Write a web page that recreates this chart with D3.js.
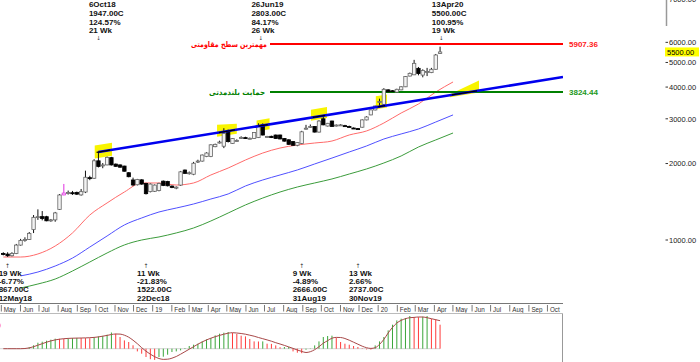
<!DOCTYPE html>
<html>
<head>
<meta charset="utf-8">
<script src="https://cdn.jsdelivr.net/npm/d3@7"></script>
<style>
body { margin: 0; background: #fff; overflow: hidden; }
svg { display: block; }
text { font-family: "Liberation Sans", Arial, sans-serif; }
</style>
</head>
<body>
<svg id="chart" width="700" height="362"></svg>
<script>
// weekly bars, first bar dated 5 May 2018
const firstWeek = "2018-05-05";
const opens = [885, 880, 867, 885, 955, 995, 1005, 1100, 1228, 1236, 1235, 1195, 1200, 1320, 1505, 1530, 1535, 1540, 1505, 1545,
  1760, 1750, 2050, 1965, 1975, 2110, 1990, 1975, 1955, 1840, 1723, 1650, 1725, 1670, 1550, 1555, 1565, 1705, 1700, 1630,
  1600, 1645, 1885, 1830, 1815, 2030, 2045, 2130, 2130, 2330, 2420, 2340, 2685, 2400, 2460, 2530, 2530, 2510, 2510, 2530,
  2840, 2550, 2560, 2590, 2590, 2510, 2480, 2440, 2360, 2400, 2740, 2790, 2800, 2660, 3000, 2810, 2940, 2820, 2840, 2820,
  2800, 2760, 2745, 2780, 2970, 3108, 3250, 3490, 3420, 3900, 3870, 3820, 3900, 4010, 4420, 4470, 4740, 4460, 4600, 4560,
  4700, 5420];
const highs = [895, 895, 895, 965, 1010, 1025, 1075, 1254, 1320, 1300, 1245, 1210, 1290, 1517, 1662, 1565, 1560, 1550, 1588, 1875,
  1790, 2080, 2230, 2010, 2130, 2125, 2000, 1985, 1960, 1850, 1760, 1740, 1735, 1680, 1670, 1655, 1680, 1715, 1710, 1640,
  1625, 1870, 1895, 1860, 2030, 2070, 2170, 2215, 2380, 2395, 2460, 2755, 2720, 2520, 2490, 2560, 2550, 2530, 2660, 2880,
  2880, 2570, 2575, 2600, 2600, 2520, 2490, 2450, 2430, 2690, 2840, 2850, 2810, 2960, 3110, 2890, 2950, 2850, 2860, 2840,
  2820, 2775, 2760, 2985, 3070, 3260, 3380, 3600, 3960, 3920, 3890, 3940, 4030, 4420, 4560, 5120, 4800, 4700, 4760, 4760,
  5400, 5770];
const lows = [870, 858, 862, 880, 950, 985, 1000, 1065, 1200, 1195, 1185, 1180, 1180, 1313, 1500, 1510, 1505, 1505, 1495, 1530,
  1720, 1740, 1930, 1917, 1970, 1965, 1940, 1925, 1860, 1765, 1630, 1640, 1650, 1510, 1540, 1545, 1555, 1630, 1625, 1600,
  1585, 1635, 1820, 1810, 1800, 2010, 2035, 2120, 2120, 2320, 2400, 2300, 2420, 2390, 2440, 2500, 2500, 2490, 2500, 2520,
  2580, 2530, 2520, 2500, 2490, 2440, 2370, 2350, 2340, 2390, 2720, 2760, 2650, 2650, 2830, 2800, 2790, 2800, 2820, 2800,
  2780, 2740, 2720, 2770, 2960, 3100, 3240, 3320, 3400, 3820, 3830, 3810, 3890, 4000, 4410, 4460, 4450, 4370, 4420, 4540,
  4690, 5400];
const closes = [878, 867, 885, 955, 995, 1005, 1062, 1228, 1236, 1215, 1190, 1200, 1278, 1504, 1530, 1538, 1527, 1515, 1550, 1766,
  1750, 2050, 1947, 1975, 2115, 1975, 1950, 1935, 1865, 1775, 1647, 1730, 1660, 1522, 1660, 1645, 1670, 1640, 1635, 1610,
  1615, 1855, 1830, 1840, 2005, 2045, 2160, 2200, 2370, 2380, 2430, 2630, 2440, 2510, 2465, 2535, 2525, 2515, 2650, 2803,
  2590, 2555, 2530, 2510, 2500, 2450, 2380, 2360, 2420, 2666, 2755, 2800, 2660, 2940, 2840, 2880, 2800, 2835, 2840, 2815,
  2790, 2750, 2737, 2970, 3050, 3252, 3370, 3510, 3920, 3830, 3840, 3920, 4010, 4400, 4530, 4960, 4520, 4650, 4610, 4700,
  5350, 5500];

// moving averages, one reading every 4 weeks (week 0, 4, 8 ... 104)
const redMA = [857, 857, 881, 947, 1066, 1254, 1399, 1545, 1677, 1677, 1646, 1677, 1803, 1920, 2065, 2200, 2302, 2366, 2409,
  2453, 2591, 2687, 2888, 3162, 3431, 3825, 4190];
const blueMA = [null, 722, 748, 790, 849, 938, 1037, 1146, 1221, 1289, 1336, 1386, 1450, 1518, 1632, 1723, 1803, 1887, 1992,
  2102, 2221, 2345, 2498, 2615, 2735, 2914, 3108];
const greenMA = [null, 647, 671, 702, 755, 819, 889, 956, 1000, 1028, 1066, 1115, 1188, 1277, 1374, 1463, 1545, 1617, 1677,
  1739, 1819, 1904, 2010, 2142, 2323, 2477, 2638];

// macd panel
const macdHist = [0, 0, 0, 0, 0, 0.5, 1.5, 3.4, 6, 7, 8, 9, 10, 9.9, 9.8, 10.4, 10.6, 10.8, 10.7, 10.6,
  10.5, 11.6, 12.3, 12.8, 14, 16.2, 15, 11.7, 8.3, 6.7, 3.4, -2.7, -5, -8.3, -10.5, -11.2, -8.3, -8, -6, -3.3,
  -2.7, -1.7, 0.7, 2.7, 4, 5, 7.3, 9.3, 10.7, 13.3, 15, 16, 16.7, 15.7, 14.7, 13, 12.3, 9.7, 7.3, 7.2,
  7.3, 5, 4.8, 3.3, 1.5, 1.7, 1.8, -2.7, -4, -4.5, -1, 0.3, 3.3, 7.3, 11.7, 12.7, 13, 10.7, 6.7, 5,
  4, 2.7, 1.7, 0.5, -0.7, -0.8, 3.3, 7.3, 11.7, 18.3, 24, 28.3, 30, 30.7, 32.7, 31.7, 31.5, 32, 32.7, 29.8,
  29.5, 24];
const macdSignal = [0, 0, 0, 0, 0, 0.2, 0.8, 2, 3.5, 5, 6.5, 7.8, 8.8, 9.5, 10, 10.3, 10.5, 10.6, 10.7, 10.8,
  11, 11.3, 11.8, 12.5, 13.3, 14.2, 14.7, 14.6, 13.5, 11.5, 8.5, 5, 1, -2.5, -5.5, -8, -9.8, -10.7, -10.5, -9.5,
  -7.8, -5.5, -3, -0.5, 2, 4.5, 6.8, 8.8, 10.5, 12, 13.3, 14.5, 15.5, 16, 15.7, 15.2, 14.5, 13.5, 12.5, 11.2,
  10, 8.8, 7.5, 6, 4.7, 3.3, 1.8, 0.3, -1.3, -2.7, -3.8, -3, -1, 2, 5.5, 8, 10.5, 11.3, 11.2, 10.2,
  8.5, 6.5, 4.5, 2.5, 1, 0.3, 1, 4.3, 9.3, 15.7, 21.3, 25.7, 28.3, 30, 31, 31.3, 31.7, 31.7, 31, 30,
  29, 28];

const priceTicks = [1000, 2000, 3000, 4000, 5000, 6000];
const resistance = 5907.36;
const support = 3824.44;
const lastPrice = 5500;
const trendPoints = [["2018-10-06", 2221], ["2020-10-27", 4382]];
const touchZones = [["2018-09-30", "2018-10-28"], ["2019-04-16", "2019-05-18"], ["2019-06-19", "2019-07-10"],
  ["2019-09-15", "2019-10-11"], ["2019-12-29", "2020-01-16"], ["2020-04-27", "2020-06-13"]];
const peakNotes = [
  { date: "2018-10-06", lines: ["6Oct18", "1947.00C", "124.57%", "21 Wk"] },
  { date: "2019-06-26", lines: ["26Jun19", "2803.00C", "84.17%", "26 Wk"] },
  { date: "2020-04-13", lines: ["13Apr20", "5500.00C", "100.95%", "19 Wk"] }
];
const troughNotes = [
  { date: "2018-05-12", lines: ["19 Wk", "-6.77%", "867.00C", "12May18"] },
  { date: "2018-12-22", lines: ["11 Wk", "-21.83%", "1522.00C", "22Dec18"] },
  { date: "2019-08-31", lines: ["9 Wk", "-4.89%", "2666.00C", "31Aug19"] },
  { date: "2019-11-30", lines: ["13 Wk", "2.66%", "2737.00C", "30Nov19"] }
];

const parse = d3.utcParse("%Y-%m-%d");
const weekDate = i => d3.utcDay.offset(parse(firstWeek), 7 * i);
const bars = opens.map((o, i) => ({ date: weekDate(i), o: o, h: highs[i], l: lows[i], c: closes[i], i: i }));

const svg = d3.select("#chart");

const x = d3.scaleUtc()
  .domain([parse(firstWeek), parse("2020-10-27")])
  .range([3.3, 563]);
const y = d3.scaleLog().domain([1000, 6000]).range([240, 42.35]);
const ym = d3.scaleLinear().domain([0, 30]).range([348.7, 318.7]);

svg.append("clipPath").attr("id", "priceClip")
  .append("rect").attr("x", 0).attr("y", 0).attr("width", 563).attr("height", 302);

const plot = svg.append("g").attr("clip-path", "url(#priceClip)");

// yellow touch zones along the trend line
const trendY = d => {
  const [p0, p1] = trendPoints;
  const x0 = x(parse(p0[0])), x1 = x(parse(p1[0]));
  const y0 = y(p0[1]), y1 = y(p1[1]);
  return y0 + (y1 - y0) * (x(d) - x0) / (x1 - x0);
};
const zoneShape = [[-7, 6, -7, 6], [-8, 4, -6, 4], [-6, 5, -6, 5], [-8, 3, -8, 3], [-11, 2, -11, 2], [-1, 2, -10, 2]];
touchZones.forEach((z, k) => {
  const d0 = parse(z[0]), d1 = parse(z[1]);
  const s = zoneShape[k];
  const pts = [[x(d0), trendY(d0) + s[0]], [x(d1), trendY(d1) + s[2]], [x(d1), trendY(d1) + s[3]], [x(d0), trendY(d0) + s[1]]];
  plot.append("polygon").attr("points", pts.map(p => p.join(",")).join(" ")).attr("fill", "#f8f400");
});

// moving averages
function maLine(values, color) {
  const pts = values.map((v, k) => ({ date: weekDate(4 * k), v: v }));
  plot.append("path")
    .datum(pts)
    .attr("fill", "none")
    .attr("stroke", color)
    .attr("stroke-width", 1)
    .attr("d", d3.line().defined(d => d.v != null).curve(d3.curveMonotoneX)
      .x(d => x(d.date)).y(d => y(d.v)));
}
maLine(redMA, "#ff6a6a");
maLine(blueMA, "#5050ff");
maLine(greenMA, "#3c9c3c");

// level lines
const levelX0 = 270, levelX1 = 563;
plot.append("line").attr("x1", levelX0).attr("x2", levelX1)
  .attr("y1", y(resistance)).attr("y2", y(resistance)).attr("stroke", "#ff0000").attr("stroke-width", 2);
plot.append("line").attr("x1", levelX0).attr("x2", levelX1)
  .attr("y1", y(support)).attr("y2", y(support)).attr("stroke", "#008000").attr("stroke-width", 2);

// candles
const cw = 3.4;
const candle = plot.selectAll("g.candle").data(bars).enter().append("g").attr("class", "candle");
candle.append("line")
  .attr("x1", d => x(d.date)).attr("x2", d => x(d.date))
  .attr("y1", d => y(d.h)).attr("y2", d => y(d.l))
  .attr("stroke", d => d.i === 14 ? "#e030e0" : "#111").attr("stroke-width", 1);
candle.append("rect")
  .attr("x", d => x(d.date) - cw / 2)
  .attr("y", d => y(Math.max(d.o, d.c)))
  .attr("width", cw)
  .attr("height", d => Math.max(1, Math.abs(y(d.o) - y(d.c))))
  .attr("fill", d => d.i === 14 ? "#fff" : (d.c >= d.o ? "#f2f2f2" : "#000"))
  .attr("stroke", d => d.i === 14 ? "#e030e0" : (d.c >= d.o ? "#666" : "#000"))
  .attr("stroke-width", 0.8);

// trend line
plot.append("line")
  .attr("x1", x(parse(trendPoints[0][0]))).attr("y1", y(trendPoints[0][1]))
  .attr("x2", x(parse(trendPoints[1][0]))).attr("y2", y(trendPoints[1][1]))
  .attr("stroke", "#0000ee").attr("stroke-width", 2.5);
touchZones.forEach(z => {
  const d0 = d3.utcDay.offset(parse(z[0]), 3), d1 = d3.utcDay.offset(parse(z[1]), -3);
  plot.append("line").attr("x1", x(d0)).attr("y1", trendY(d0)).attr("x2", x(d1)).attr("y2", trendY(d1))
    .attr("stroke", "#000").attr("stroke-width", 1.3);
});

// level labels
svg.append("text").attr("x", 267).attr("y", y(resistance) + 3).attr("text-anchor", "end")
  .attr("fill", "#ff0000").attr("font-size", 7.8).attr("font-weight", "bold")
  .attr("textLength", 76).attr("lengthAdjust", "spacingAndGlyphs")
  .style("font-family", "'DejaVu Sans', sans-serif").text("مهمترین سطح مقاومتی");
svg.append("text").attr("x", 265).attr("y", y(support) + 3).attr("text-anchor", "end")
  .attr("fill", "#008000").attr("font-size", 7.8).attr("font-weight", "bold")
  .attr("textLength", 56).attr("lengthAdjust", "spacingAndGlyphs")
  .style("font-family", "'DejaVu Sans', sans-serif").text("حمایت بلندمدتی");
svg.append("text").attr("x", 569).attr("y", y(resistance) + 3)
  .attr("fill", "#ff2020").attr("font-size", 8).attr("font-weight", "bold").text(resistance.toFixed(2));
svg.append("text").attr("x", 569).attr("y", y(support) + 3)
  .attr("fill", "#229922").attr("font-size", 8).attr("font-weight", "bold").text(support.toFixed(2));

// price axis on the right
const pAxis = svg.append("g");
pAxis.append("line").attr("x1", 666.5).attr("x2", 666.5).attr("y1", 0).attr("y2", 26).attr("stroke", "#999").attr("stroke-width", 1.5);
pAxis.append("text").attr("x", 669).attr("y", 1.5).attr("font-size", 7.5).attr("fill", "#222").text("7000.00");
priceTicks.forEach(t => {
  pAxis.append("line").attr("x1", 665.5).attr("x2", 668).attr("y1", y(t)).attr("y2", y(t)).attr("stroke", "#333");
  pAxis.append("text").attr("x", 669).attr("y", y(t) + 2.7).attr("font-size", 7.5).attr("fill", "#222").text(t.toFixed(2));
});
pAxis.append("rect").attr("x", 665).attr("y", y(lastPrice) - 4.5).attr("width", 34).attr("height", 9).attr("fill", "#ffff00");
pAxis.append("text").attr("x", 667).attr("y", y(lastPrice) + 2.7).attr("font-size", 7.5).attr("fill", "#000").text(lastPrice.toFixed(2));

// swing annotations
const noteStyle = sel => sel.attr("font-size", 8).attr("fill", "#111").attr("font-weight", "bold");
peakNotes.forEach(n => {
  const ax = x(parse(n.date));
  n.lines.forEach((t, k) => svg.append("text").attr("x", ax - 9.5).attr("y", 7.3 + 8.7 * k).call(noteStyle).text(t));
  svg.append("text").attr("x", ax).attr("y", 40).attr("text-anchor", "middle").attr("font-size", 5.5).attr("fill", "#333")
    .style("font-family", "'DejaVu Sans', sans-serif").text("↓");
});
troughNotes.forEach(n => {
  const ax = x(parse(n.date));
  svg.append("text").attr("x", ax).attr("y", 267.5).attr("text-anchor", "middle").attr("font-size", 6).attr("fill", "#333")
    .style("font-family", "'DejaVu Sans', sans-serif").text("↑");
  n.lines.forEach((t, k) => svg.append("text").attr("x", ax - 9).attr("y", 275.7 + 8.33 * k).call(noteStyle).text(t));
});

// time axis
svg.append("line").attr("x1", 0).attr("x2", 563).attr("y1", 303.5).attr("y2", 303.5).attr("stroke", "#777");
const monthTicks = d3.utcMonths(Date.UTC(2018, 4, 1), Date.UTC(2020, 9, 2));
const fmtMonth = d3.utcFormat("%b"), fmtYear = d3.utcFormat("%y");
const xAxis = svg.append("g").attr("transform", "translate(0,303.5)")
  .call(d3.axisBottom(x).tickValues(monthTicks).tickSize(7).tickSizeOuter(0)
    .tickFormat(d => d.getUTCMonth() === 0 ? fmtYear(d) : fmtMonth(d)));
xAxis.select(".domain").remove();
xAxis.selectAll(".tick line").attr("stroke", "#777").attr("y1", 1.5).attr("y2", 8);
xAxis.selectAll(".tick text").attr("x", 2.5).attr("y", 8).attr("dy", 0).attr("text-anchor", "start")
  .attr("font-size", 6.3).attr("fill", "#333").style("font-family", "'Liberation Sans', Arial, sans-serif");

// macd panel
svg.append("line").attr("x1", 0).attr("x2", 562.5).attr("y1", 313.5).attr("y2", 313.5).attr("stroke", "#bbb");
svg.append("line").attr("x1", 562.5).attr("x2", 562.5).attr("y1", 313.5).attr("y2", 362).attr("stroke", "#999");
svg.append("text").attr("x", -3).attr("y", 328).attr("font-size", 7).attr("fill", "#ff5050").text("0");
svg.append("line").attr("x1", 0).attr("x2", x(bars[bars.length - 1].date)).attr("y1", ym(0)).attr("y2", ym(0))
  .attr("stroke", "#d4d4d4");
svg.selectAll("line.hist").data(macdHist).enter().append("line").attr("class", "hist")
  .attr("x1", (v, i) => x(weekDate(i))).attr("x2", (v, i) => x(weekDate(i)))
  .attr("y1", ym(0)).attr("y2", v => ym(v))
  .attr("stroke", (v, i) => (i === 0 || v >= macdHist[i - 1]) ? "#3aa63a" : "#ff3b3b")
  .attr("stroke-width", 1);
svg.append("path").datum(macdSignal)
  .attr("fill", "none").attr("stroke", "#a84848").attr("stroke-width", 1)
  .attr("d", d3.line().curve(d3.curveMonotoneX).x((v, i) => x(weekDate(i))).y(v => ym(v)));
</script>
</body>
</html>
